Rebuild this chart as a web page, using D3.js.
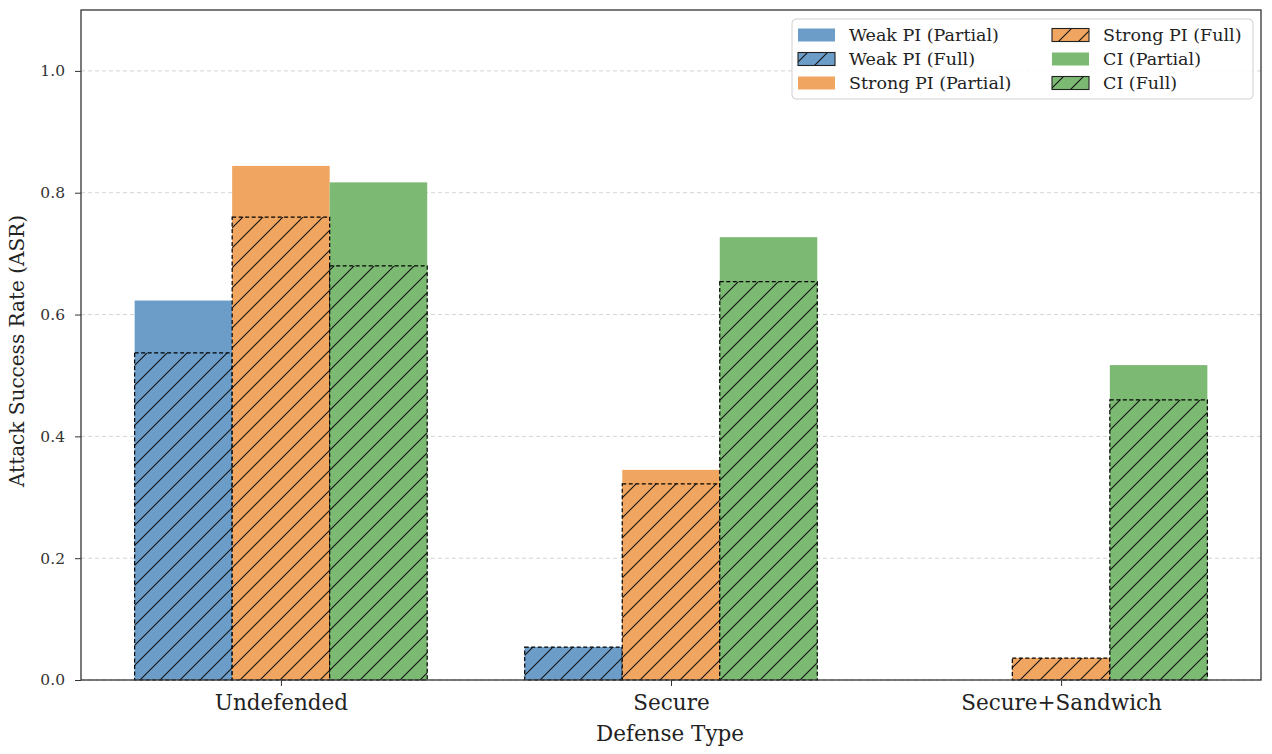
<!DOCTYPE html>
<html>
<head>
<meta charset="utf-8">
<script src="https://cdn.jsdelivr.net/npm/d3@7/dist/d3.min.js"></script>
<style>
  html, body { margin: 0; padding: 0; background: #fff; }
  svg { display: block; font-family: "DejaVu Serif", serif; }
</style>
</head>
<body>
<svg id="chart" width="1272" height="754"></svg>
<script>
const categories = ["Undefended", "Secure", "Secure+Sandwich"];
const weakPartial   = [0.623, 0.054, 0.0];
const weakFull      = [0.537, 0.054, 0.0];
const strongPartial = [0.844, 0.345, 0.036];
const strongFull    = [0.760, 0.322, 0.036];
const ciPartial     = [0.817, 0.727, 0.517];
const ciFull        = [0.680, 0.654, 0.460];
const yTicks = [0.0, 0.2, 0.4, 0.6, 0.8, 1.0];

const colors = { weak: "#6b9dc8", strong: "#f0a660", ci: "#7cba73" };

const svg = d3.select("#chart");
const pLeft = 81, pRight = 1261, pTop = 10, pBottom = 680;

const x = d3.scaleLinear().domain([-0.5125, 2.5125]).range([pLeft, pRight]);
const y = d3.scaleLinear().domain([0, 1.1]).range([pBottom, pTop]);
const barW = 0.25;

// hatch pattern
const defs = svg.append("defs");
const pat = defs.append("pattern")
  .attr("id", "hatch").attr("patternUnits", "userSpaceOnUse")
  .attr("width", 20).attr("height", 20);
pat.append("path")
  .attr("d", "M-5,5 L5,-5 M0,20 L20,0 M15,25 L25,15")
  .attr("stroke", "#111").attr("stroke-width", 1.1).attr("fill", "none");

// grid
svg.append("g").selectAll("line").data(yTicks).join("line")
  .attr("x1", pLeft).attr("x2", pRight)
  .attr("y1", d => y(d)).attr("y2", d => y(d))
  .attr("stroke", "#c8c8c8").attr("stroke-width", 0.8)
  .attr("stroke-dasharray", "4,3");

const series = [
  { key: "weak", off: -1, partial: weakPartial, full: weakFull },
  { key: "strong", off: 0, partial: strongPartial, full: strongFull },
  { key: "ci", off: 1, partial: ciPartial, full: ciFull }
];

const bars = svg.append("g");
series.forEach(s => {
  const idx = d3.range(categories.length);
  bars.append("g").selectAll("rect").data(idx.filter(i => s.partial[i] > 0)).join("rect")
    .attr("x", i => x(i + s.off * barW - barW / 2))
    .attr("width", i => x(barW) - x(0))
    .attr("y", i => y(s.partial[i]))
    .attr("height", i => y(0) - y(s.partial[i]))
    .attr("fill", colors[s.key]);
});
series.forEach(s => {
  const idx = d3.range(categories.length).filter(i => s.full[i] > 0);
  const g = bars.append("g");
  g.selectAll("rect.f").data(idx).join("rect")
    .attr("class", "f")
    .attr("x", i => x(i + s.off * barW - barW / 2))
    .attr("width", i => x(barW) - x(0))
    .attr("y", i => y(s.full[i]))
    .attr("height", i => y(0) - y(s.full[i]))
    .attr("fill", colors[s.key]);
  g.selectAll("rect.h").data(idx).join("rect")
    .attr("class", "h")
    .attr("x", i => x(i + s.off * barW - barW / 2))
    .attr("width", i => x(barW) - x(0))
    .attr("y", i => y(s.full[i]))
    .attr("height", i => y(0) - y(s.full[i]))
    .attr("fill", "url(#hatch)")
    .attr("stroke", "#000").attr("stroke-width", 1.2)
    .attr("stroke-dasharray", "4,2.5");
});

// frame
svg.append("rect").attr("x", pLeft).attr("y", pTop)
  .attr("width", pRight - pLeft).attr("height", pBottom - pTop)
  .attr("fill", "none").attr("stroke", "#333").attr("stroke-width", 1.3);

// y axis
const yAxis = svg.append("g").attr("transform", `translate(${pLeft},0)`)
  .call(d3.axisLeft(y).tickValues(yTicks).tickFormat(d3.format(".1f")).tickSize(6).tickPadding(10));
yAxis.select(".domain").remove();
yAxis.selectAll("line").attr("stroke", "#333");
yAxis.selectAll("text").attr("font-family", "DejaVu Serif").attr("font-size", 15.5).attr("fill", "#333");

// x axis
const xAxis = svg.append("g").attr("transform", `translate(0,${pBottom})`)
  .call(d3.axisBottom(x).tickValues(d3.range(categories.length)).tickFormat(i => categories[i]).tickSize(6).tickPadding(9));
xAxis.select(".domain").remove();
xAxis.selectAll("line").attr("stroke", "#333");
xAxis.selectAll("text").attr("font-family", "DejaVu Serif").attr("font-size", 21.5).attr("fill", "#222");

// axis labels
svg.append("text").attr("x", (pLeft + pRight) / 2 - 1).attr("y", 741)
  .attr("text-anchor", "middle").attr("font-size", 21.5).attr("fill", "#222")
  .text("Defense Type");
svg.append("text").attr("transform", "translate(24,351) rotate(-90)")
  .attr("text-anchor", "middle").attr("font-size", 20).attr("fill", "#222")
  .text("Attack Success Rate (ASR)");

// legend
const legendItems = [
  { label: "Weak PI (Partial)", key: "weak", full: false },
  { label: "Weak PI (Full)", key: "weak", full: true },
  { label: "Strong PI (Partial)", key: "strong", full: false },
  { label: "Strong PI (Full)", key: "strong", full: true },
  { label: "CI (Partial)", key: "ci", full: false },
  { label: "CI (Full)", key: "ci", full: true }
];
const lg = svg.append("g");
lg.append("rect").attr("x", 792).attr("y", 19).attr("width", 461).attr("height", 80)
  .attr("rx", 4).attr("fill", "#fff").attr("fill-opacity", 0.85)
  .attr("stroke", "#d0d0d0").attr("stroke-width", 1);
legendItems.forEach((d, i) => {
  const col = Math.floor(i / 3), row = i % 3;
  const sx = col === 0 ? 798 : 1052;
  const cy = 35 + row * 24;
  lg.append("rect").attr("x", sx).attr("y", cy - 6.5).attr("width", 37).attr("height", 13)
    .attr("fill", colors[d.key]);
  if (d.full) {
    lg.append("rect").attr("x", sx).attr("y", cy - 6.5).attr("width", 37).attr("height", 13)
      .attr("fill", "url(#hatch)").attr("stroke", "#222").attr("stroke-width", 1.1);
  }
  lg.append("text").attr("x", sx + 51).attr("y", cy).attr("dy", "0.35em")
    .attr("font-size", 17.5).attr("fill", "#222").text(d.label);
});
</script>
</body>
</html>
